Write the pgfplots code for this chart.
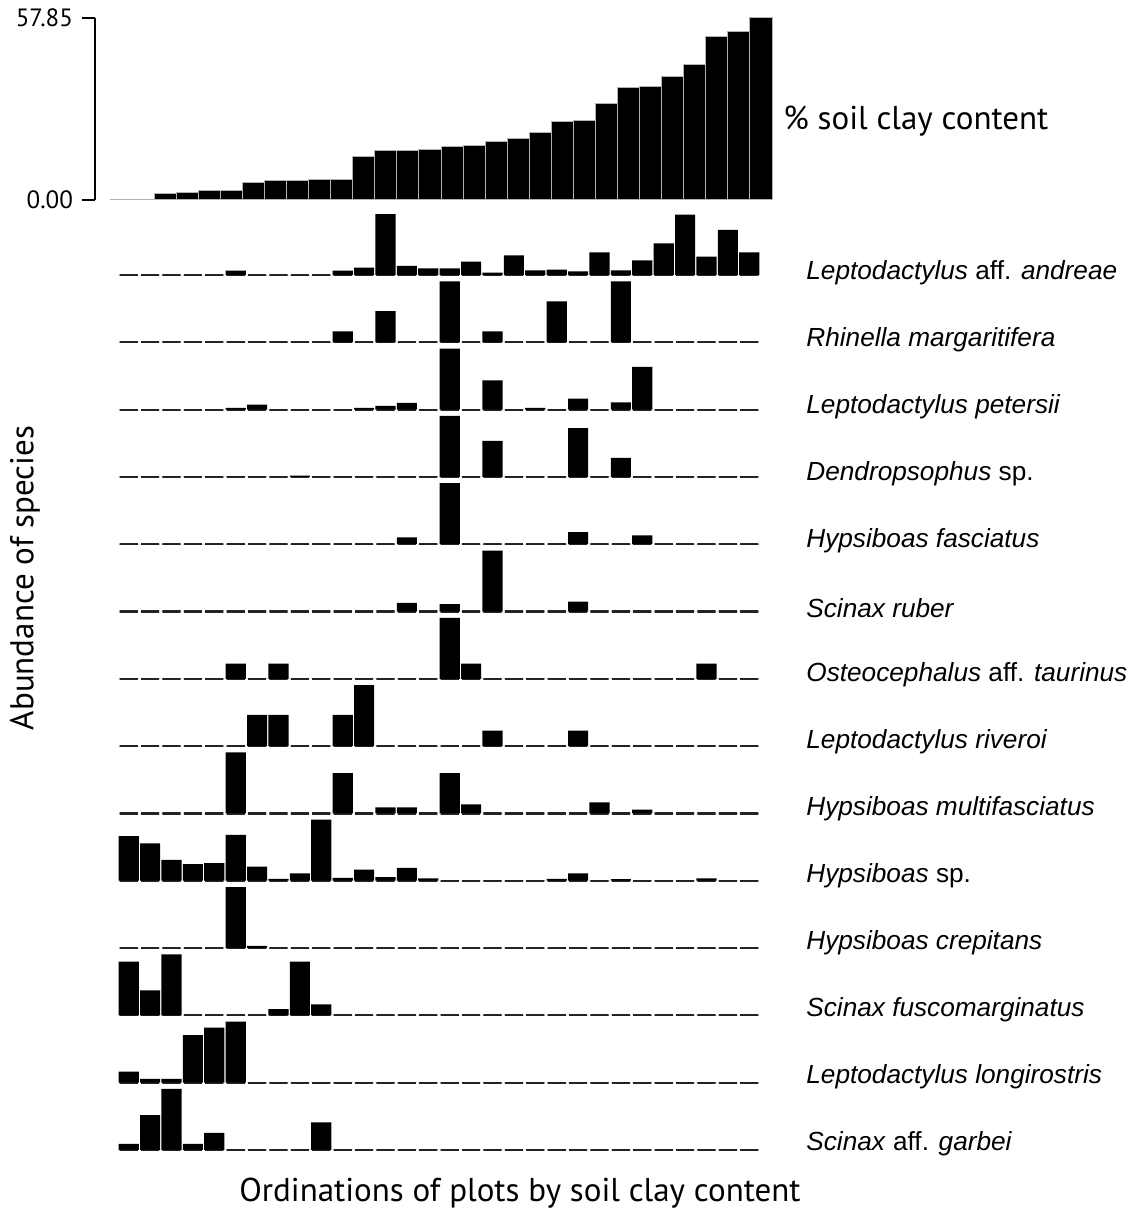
\documentclass[border=0pt]{standalone}
\usepackage{pgfplots}
\usepackage{pgfplotstable}
\pgfplotsset{compat=1.18}
\usepackage{fontspec}
\setmainfont{PT Sans}
\newfontfamily\spfont{Liberation Sans}

% plots ordered by soil clay content; species abundances scaled to each species' maximum
% Z is the zero baseline drawn as one dash per plot
\pgfplotstableread{
x  clay  Z A     R    P    D    F     S    O    V     M    H     C     U    L    G
1  0.3   0 0     0    0    0    0     0    0    0     0    0.73  0     0.88 0.18 0.10
2  0.3   0 0     0    0    0    0     0    0    0     0    0.61  0     0.41 0.06 0.57
3  2.0   0 0     0    0    0    0     0    0    0     0    0.34  0     1    0.06 1
4  2.5   0 0     0    0    0    0     0    0    0     0    0.27  0     0    0.78 0.10
5  3.1   0 0     0    0    0    0     0    0    0     0    0.29  0     0    0.90 0.28
6  3.1   0 0.07  0    0.03 0    0     0    0.25 0     1    0.75  1     0    1    0
7  5.6   0 0     0    0.08 0    0     0    0    0.51  0    0.23  0.035 0    0    0
8  6.2   0 0     0    0    0    0     0    0.25 0.51  0    0.03  0     0.10 0    0
9  6.2   0 0     0    0    0.02 0     0    0    0     0    0.12  0     0.88 0    0
10 6.6   0 0     0    0    0    0     0    0    0     0    1     0     0.18 0    0.45
11 6.6   0 0.07  0.18 0    0    0     0    0    0.51  0.66 0.045 0     0    0    0
12 13.8  0 0.12  0    0.03 0    0     0    0    1     0    0.18  0     0    0    0
13 15.8  0 1     0.51 0.06 0    0     0    0    0     0.10 0.06  0     0    0    0
14 15.8  0 0.15  0    0.11 0    0.11  0.14 0    0     0.10 0.21  0     0    0    0
15 16.2  0 0.11  0    0    0    0     0    0    0     0    0.04  0     0    0    0
16 17.0  0 0.11  1    1    1    1     0.12 1    0     0.66 0     0     0    0    0
17 17.4  0 0.22  0    0    0    0     0    0.25 0     0.15 0     0     0    0    0
18 18.6  0 0.04  0.18 0.48 0.59 0     1    0    0.255 0    0     0     0    0    0
19 19.4  0 0.32  0    0    0    0     0    0    0     0    0     0     0    0    0
20 21.4  0 0.075 0    0.03 0    0     0    0    0     0    0     0     0    0    0
21 25.1  0 0.09  0.67 0    0    0     0    0    0     0    0.03  0     0    0    0
22 25.2  0 0.06  0    0.18 0.80 0.20  0.16 0    0.255 0    0.12  0     0    0    0
23 30.8  0 0.37  0    0    0    0     0    0    0     0.18 0     0     0    0    0
24 35.7  0 0.075 1    0.12 0.31 0     0    0    0     0    0.025 0     0    0    0
25 36.1  0 0.24  0    0.70 0    0.145 0    0    0     0.06 0     0     0    0    0
26 39.3  0 0.52  0    0    0    0     0    0    0     0    0     0     0    0    0
27 43.1  0 0.99  0    0    0    0     0    0    0     0    0     0     0    0    0
28 52.0  0 0.30  0    0    0    0     0    0.25 0     0    0.04  0     0    0    0
29 53.7  0 0.74  0    0    0    0     0    0    0     0    0     0     0    0    0
30 57.85 0 0.37  0    0    0    0     0    0    0     0    0     0     0    0    0
}\plotdata

\pgfplotsset{
  panel/.style={scale only axis, anchor=south west, width=321pt, height=30.5pt,
    xmin=0.5, xmax=30.5, ymin=0, ymax=1, hide axis, clip=false, ybar},
}

% one species row: #1 row index, #2 table column, #3 species name
\newcommand\panel[3]{%
  \pgfmathsetmacro\base{-(275+67.3*#1)/2}%
  \pgfmathsetmacro\laby{-(273+67.0*#1)/2}%
  \begin{axis}[panel, at={(59pt,\base pt)}]
    \addplot[bar shift=0pt, bar width=0.85, fill=black, draw=black!85, line width=1.1pt]
      table[x=x, y=Z] {\plotdata};
    \addplot[bar shift=0pt, bar width=0.94, fill=black, draw=none]
      table[x=x, y=#2] {\plotdata};
  \end{axis}
  \node[anchor=west, inner sep=0pt, font=\spfont\fontsize{13.1}{15}\selectfont]
    at (403pt,\laby pt) {#3};
}

\begin{document}
\begin{tikzpicture}
\useasboundingbox (0,0) rectangle (569pt,-607pt);

% soil clay content
\begin{axis}[scale only axis, anchor=south west, at={(47.5pt,-100pt)},
  width=338.5pt, height=91pt, xmin=-0.18, xmax=30.5, ymin=0, ymax=57.85,
  axis y line=left, axis x line=none, axis line style={-, line width=1pt},
  ytick={0,57.85}, yticklabels={0.00,57.85}, tick align=outside,
  major tick length=6.5pt, every tick/.style={line width=1pt, black},
  yticklabel style={font=\fontsize{12.5}{14}\selectfont, xshift=-1pt},
  ybar, bar width=1, clip=false]
  \addplot[fill=black, draw=black!30, line width=0.5pt] table[x=x, y=clay] {\plotdata};
\end{axis}
\node[anchor=west, inner sep=0pt, font=\fontsize{16.5}{19}\selectfont]
  at (391.5pt,-60.5pt) {\% soil clay content};

\panel{0}{A}{\textit{Leptodactylus} aff. \textit{andreae}}
\panel{1}{R}{\textit{Rhinella margaritifera}}
\panel{2}{P}{\textit{Leptodactylus petersii}}
\panel{3}{D}{\textit{Dendropsophus} sp.}
\panel{4}{F}{\textit{Hypsiboas fasciatus}}
\panel{5}{S}{\textit{Scinax ruber}}
\panel{6}{O}{\textit{Osteocephalus} aff. \textit{taurinus}}
\panel{7}{V}{\textit{Leptodactylus riveroi}}
\panel{8}{M}{\textit{Hypsiboas multifasciatus}}
\panel{9}{H}{\textit{Hypsiboas} sp.}
\panel{10}{C}{\textit{Hypsiboas crepitans}}
\panel{11}{U}{\textit{Scinax fuscomarginatus}}
\panel{12}{L}{\textit{Leptodactylus longirostris}}
\panel{13}{G}{\textit{Scinax} aff. \textit{garbei}}

\node[rotate=90, font=\fontsize{16.5}{19}\selectfont] at (12.5pt,-289pt) {Abundance of species};
\node[font=\fontsize{16.5}{19}\selectfont] at (260pt,-596.5pt) {Ordinations of plots by soil clay content};
\end{tikzpicture}
\end{document}
